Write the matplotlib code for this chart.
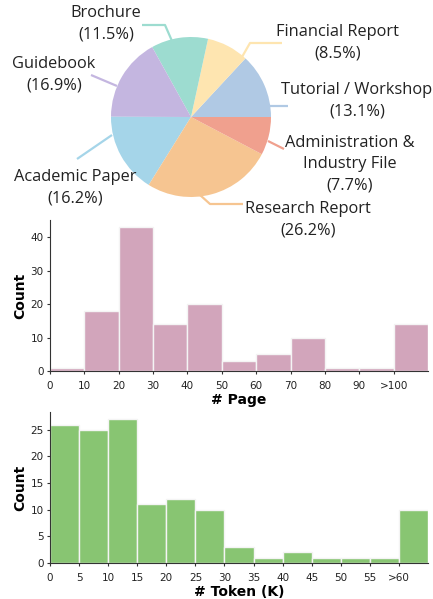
import matplotlib
matplotlib.use("Agg")
import matplotlib.pyplot as plt

# ---------------- data ----------------
pie_labels = ["Tutorial / Workshop", "Financial Report", "Brochure", "Guidebook",
              "Academic Paper", "Research Report", "Administration &\nIndustry File"]
pie_values = [13.1, 8.5, 11.5, 16.9, 16.2, 26.2, 7.7]
pie_colors = ["#b0c9e4", "#fee5b0", "#9ddcd0", "#c4b6e0", "#a5d5e9", "#f6c591", "#f0a08e"]

page_edges = [0, 10, 20, 30, 40, 50, 60, 70, 80, 90, 100]
page_counts = [1, 18, 43, 14, 20, 3, 5, 10, 1, 1, 14]
page_ticklabels = ["0", "10", "20", "30", "40", "50", "60", "70", "80", "90", ">100"]

token_edges = [0, 5, 10, 15, 20, 25, 30, 35, 40, 45, 50, 55, 60]
token_counts = [26, 25, 27, 11, 12, 10, 3, 1, 2, 1, 1, 1, 10]
token_ticklabels = ["0", "5", "10", "15", "20", "25", "30", "35", "40", "45", "50", "55", ">60"]

W, H = 433, 599
fig = plt.figure(figsize=(W / 100, H / 100), dpi=100)

# ---------------- histograms ----------------
def hist_axes(rect, edges, counts, width, ticklabels, color, xlabel, xmax):
    ax = fig.add_axes(rect)
    ax.patch.set_alpha(0)
    ax.bar(edges, counts, width=width, align="edge", color=color,
           edgecolor="#f4f4f4", linewidth=1.0)
    ax.set_xlim(0, xmax)
    ax.set_ylim(0, max(counts) * 1.05)
    ax.set_xticks(edges)
    ax.set_xticklabels(ticklabels)
    for s in ["top", "right"]:
        ax.spines[s].set_visible(False)
    for s in ["left", "bottom"]:
        ax.spines[s].set_color("#333333")
        ax.spines[s].set_linewidth(0.8)
    ax.tick_params(axis="both", labelsize=7.5, length=2.5, width=0.8,
                   color="#333333", labelcolor="#222222")
    ax.tick_params(axis="x", pad=4.5)
    ax.tick_params(axis="y", pad=2)
    ax.set_ylabel("Count", fontsize=10, fontweight="bold", labelpad=2.5)
    ax.set_xlabel(xlabel, fontsize=10, fontweight="bold", labelpad=1.5)
    return ax

hist_axes([50 / W, (H - 371) / H, 378 / W, 151 / H], page_edges, page_counts, 10,
          page_ticklabels, "#d2a5bb", "# Page", 110)
hist_axes([50 / W, (H - 563) / H, 378 / W, 151 / H], token_edges, token_counts, 5,
          token_ticklabels, "#88c572", "# Token (K)", 65)

# ---------------- pie (axes in pixel units) ----------------
TOP = 220
axp = fig.add_axes([0, (H - TOP) / H, 1, TOP / H])
axp.set_zorder(10)
axp.pie(pie_values, colors=pie_colors, startangle=0, counterclock=True,
        center=(191, TOP - 117), radius=80, frame=False)
axp.set_xlim(0, W)
axp.set_ylim(0, TOP)
axp.set_aspect("equal")
axp.axis("off")

def Y(py):
    return TOP - py

# leader lines (pixel layout) and label positions
leaders = [
    [(270, 106), (288, 106)],
    [(242, 57), (250, 43), (282, 43)],
    [(172, 41), (165, 25), (142, 25)],
    [(117, 86), (91, 75)],
    [(112, 135), (77, 159)],
    [(200, 195), (210, 204), (243, 204)],
    [(268, 141), (284, 149)],
]
label_pos = [(357, 101), (338, 43), (106, 24), (54, 75), (75, 188), (308, 220), (350, 164)]

fp = dict(family=["Open Sans", "DejaVu Sans"], fontsize=11.8, color="#222222")
for lab, val, col, pts, (tx, ty) in zip(pie_labels, pie_values, pie_colors, leaders, label_pos):
    xs = [p[0] for p in pts]
    ys = [Y(p[1]) for p in pts]
    axp.plot(xs, ys, color=col, lw=1.6, solid_capstyle="butt", clip_on=False)
    axp.text(tx, Y(ty), f"{lab}\n({val}%)", ha="center", va="center",
             linespacing=1.45, clip_on=False, **fp)

fig.savefig("out.png", dpi=100)
